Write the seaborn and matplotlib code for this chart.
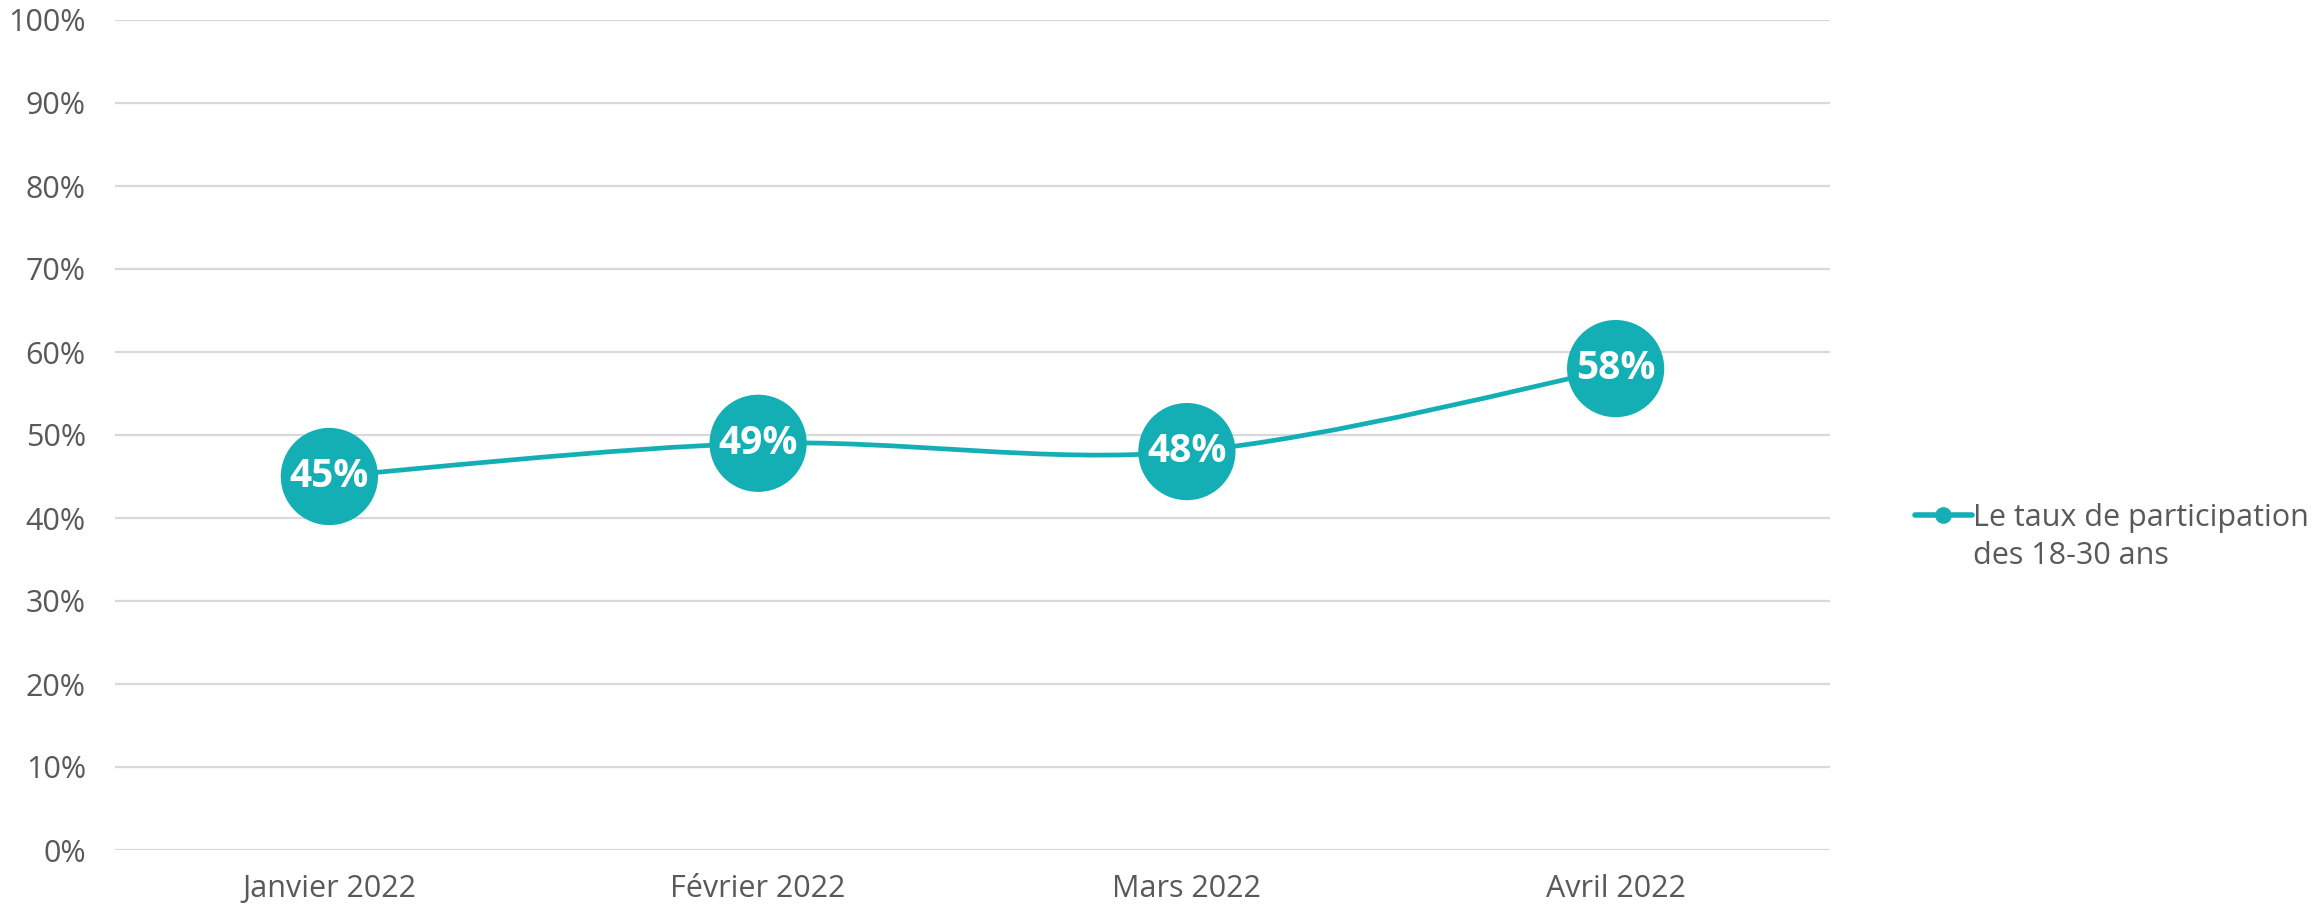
import numpy as np
import pandas as pd
import matplotlib
matplotlib.use("Agg")
import matplotlib.pyplot as plt
from matplotlib.path import Path
from matplotlib.patches import PathPatch
from matplotlib.lines import Line2D
from matplotlib.ticker import PercentFormatter
import seaborn as sns

MONTHS = ["Janvier 2022", "Février 2022", "Mars 2022", "Avril 2022"]
RATES = [45, 49, 48, 58]
LABELS = ["45%", "49%", "48%", "58%"]
SERIES = "Le taux de participation des 18-30 ans"

TEAL = "#14AFB5"
GRID = "#D9D9D9"
TEXT = "#595959"

sns.set_theme(style="white")
plt.rcParams["font.family"] = ["Open Sans", "DejaVu Sans"]

df = pd.DataFrame({"mois": MONTHS, "taux": RATES})
df["x"] = np.arange(len(df))

fig = plt.figure(figsize=(23.2, 9.06), dpi=100)
ax = fig.add_axes([115 / 2320, 56 / 906, (1830 - 115) / 2320, 830 / 906])

# courbe lissée (Bezier type Catmull-Rom, comme le lissage Excel)
pts = df[["x", "taux"]].to_numpy(dtype=float)
ext = np.vstack([pts[0], pts, pts[-1]])
verts = [tuple(pts[0])]
codes = [Path.MOVETO]
for i in range(len(pts) - 1):
    p0, p1, p2, p3 = ext[i], ext[i + 1], ext[i + 2], ext[i + 3]
    c1 = p1 + (p2 - p0) / 6
    c2 = p2 - (p3 - p1) / 6
    verts += [tuple(c1), tuple(c2), tuple(p2)]
    codes += [Path.CURVE4] * 3
ax.add_patch(PathPatch(Path(verts, codes), facecolor="none", edgecolor=TEAL,
                       lw=3.4, zorder=3))

sns.scatterplot(data=df, x="x", y="taux", s=4900, color=TEAL, edgecolor="none",
                ax=ax, zorder=4, legend=False)
for i, r in df.iterrows():
    ax.text(r["x"], r["taux"], LABELS[i], ha="center", va="center",
            color="white", fontsize=28, fontweight="bold", zorder=5)

ax.set_xlim(-0.5, len(df) - 0.5)
ax.set_ylim(0, 100)
ax.set_yticks(range(0, 101, 10))
ax.yaxis.set_major_formatter(PercentFormatter(decimals=0))
ax.set_xticks(df["x"])
ax.set_xticklabels(MONTHS)
ax.set_xlabel("")
ax.set_ylabel("")
ax.grid(axis="y", color=GRID, lw=1.6)
ax.set_axisbelow(True)
for s in ax.spines.values():
    s.set_visible(False)
ax.tick_params(axis="y", length=0, pad=21, labelsize=22, labelcolor=TEXT)
ax.tick_params(axis="x", length=0, pad=17, labelsize=22, labelcolor=TEXT)

first, second = "Le taux de participation", "des 18-30 ans"
handle = Line2D([], [], color=TEAL, lw=4, marker="o", markersize=11)
leg = fig.legend(handles=[handle], labels=[first], loc="center left",
                 bbox_to_anchor=(1915 / 2320, 1 - 518 / 906), frameon=False,
                 fontsize=22, handlelength=1.85, handletextpad=0.05,
                 borderpad=0, borderaxespad=0)
for t in leg.get_texts():
    t.set_color(TEXT)
fig.canvas.draw()
bb = leg.get_texts()[0].get_window_extent()
fig.text(bb.x0 / fig.bbox.width, 1 - 556 / 906, second, ha="left", va="center",
         fontsize=22, color=TEXT)

fig.savefig("out.png", dpi=100)
